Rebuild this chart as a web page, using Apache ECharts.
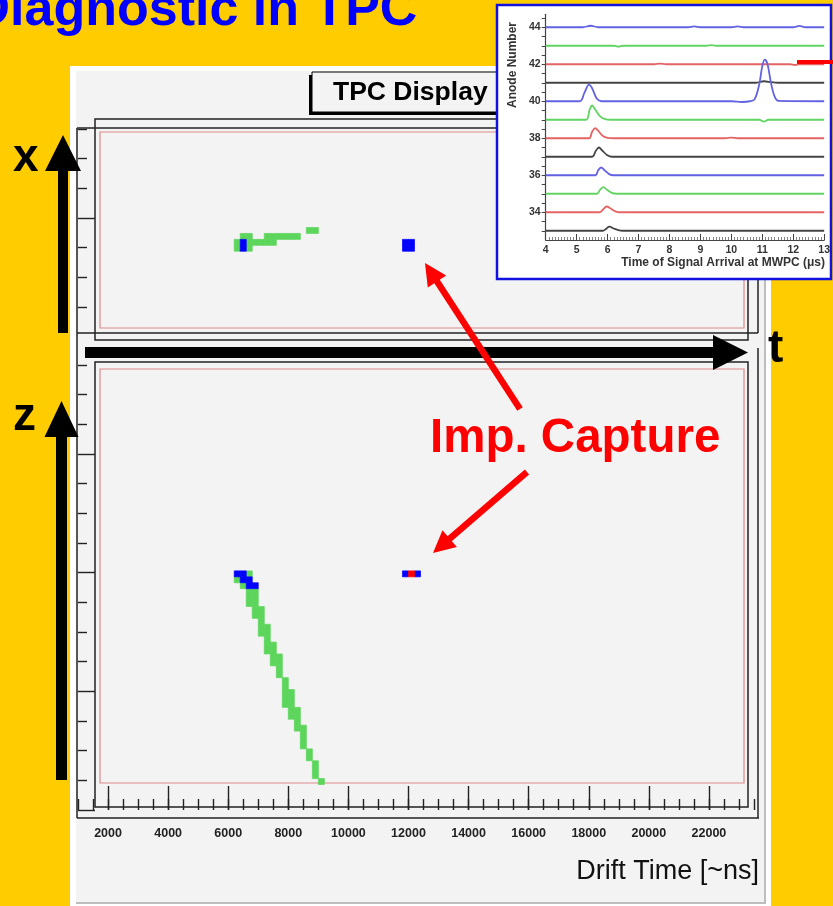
<!DOCTYPE html>
<html>
<head>
<meta charset="utf-8">
<script src="https://cdn.jsdelivr.net/npm/echarts@6/dist/echarts.min.js"></script>
<style>
html,body{margin:0;padding:0;background:#ffcc00;}
#c{width:833px;height:906px;}
</style>
</head>
<body>
<div id="c"></div>
<script>
// ---------------- DATA ----------------
// TPC display: drift time bin width (ns) and pad-row height (axis units)
const TIME_BIN = 200;
const ROW_H = 1;
// cells: [drift time bin start (ns), row position, charge level 1=low 2=mid 3=high]
const topCells = [
  [6200,14.4,1],[6400,14.4,2],[6600,14.4,1],
  [6200,15.4,1],[6400,15.4,2],[6600,15.4,1],[6800,15.4,1],[7000,15.4,1],[7200,15.4,1],[7400,15.4,1],
  [6400,16.4,1],[6600,16.4,1],[7200,16.4,1],[7400,16.4,1],[7600,16.4,1],[7800,16.4,1],[8000,16.4,1],[8200,16.4,1],
  [8600,17.4,1],[8800,17.4,1],
  [11800,14.4,2],[12000,14.4,2],[11800,15.4,2],[12000,15.4,2]
];
const bottomCells = [
  [6200,39.3,2],[6400,39.3,2],[6600,39.3,1],
  [6200,38.3,1],[6400,38.3,2],[6600,38.3,2],
  [6400,37.3,1],[6600,37.3,2],[6800,37.3,2],
  [6600,36.3,1],[6800,36.3,1],
  [6600,35.3,1],[6800,35.3,1],
  [6600,34.3,1],[6800,34.3,1],
  [6800,33.3,1],[7000,33.3,1],
  [6800,32.3,1],[7000,32.3,1],
  [7000,31.3,1],
  [7000,30.3,1],[7200,30.3,1],
  [7000,29.3,1],[7200,29.3,1],
  [7200,28.3,1],
  [7200,27.3,1],[7400,27.3,1],
  [7200,26.3,1],[7400,26.3,1],
  [7400,25.3,1],[7600,25.3,1],
  [7400,24.3,1],[7600,24.3,1],
  [7600,23.3,1],
  [7600,22.3,1],
  [7800,21.3,1],
  [7800,20.3,1],
  [7800,19.3,1],[8000,19.3,1],
  [7800,18.3,1],[8000,18.3,1],
  [7800,17.3,1],[8000,17.3,1],
  [8000,16.3,1],[8200,16.3,1],
  [8000,15.3,1],[8200,15.3,1],
  [8200,14.3,1],
  [8200,13.3,1],[8400,13.3,1],
  [8400,12.3,1],
  [8400,11.3,1],
  [8400,10.3,1],
  [8600,9.3,1],
  [8600,8.3,1],
  [8800,7.3,1],
  [8800,6.3,1],
  [8800,5.3,1],
  [9000,4.3,1],
  [11800,39.3,2],[12000,39.3,3],[12200,39.3,2]
];
const driftTimeLabels = [2000,4000,6000,8000,10000,12000,14000,16000,18000,20000,22000];
const topMinorTicks = [5,10,15,25,30,35];
const topMajorTicks = [20];
const bottomMinorTicks = [5,10,15,25,30,35,45,50,55,65,70,75];
const bottomMajorTicks = [0,20,40,60];

// Inset: MWPC anode signals, [time (us), signal above baseline (anode units)]
const anodes = [44,43,42,41,40,39,38,37,36,35,34,33];
const anodeLabels = [34,36,38,40,42,44];
const anodeTicks = [33,33.5,34,34.5,35,35.5,36,36.5,37,37.5,38,38.5,39,39.5,40,40.5,41,41.5,42,42.5,43,43.5,44,44.5];
const sig44 = [[4,0],[5.2,0],[5.45,0.08],[5.7,0],[8.6,0],[8.8,0.05],[9.0,0],[10.0,0],[10.2,0.05],[10.4,0],[12.0,0],[12.2,0.07],[12.4,0],[13,0]];
const sig43 = [[4,0],[6.2,0],[6.35,-0.05],[6.5,0],[9.2,0],[9.35,0.03],[9.5,0],[13,0]];
const sig42 = [[4,0],[7.5,0],[7.7,0.03],[7.9,0],[11.9,0],[12.05,-0.04],[12.2,0],[13,0]];
const sig41 = [[4,0],[10.8,0],[11.05,0.08],[11.3,0.03],[11.5,0],[13,0]];
const sig40 = [[4,0],[5.1,0],[5.25,0.45],[5.4,0.9],[5.5,0.7],[5.65,0.15],[5.8,0],[10.0,0],[10.35,-0.04],[10.6,0],[10.75,0.1],[10.9,0.9],[11.0,1.9],[11.08,2.25],[11.17,2.0],[11.28,1.0],[11.4,0.25],[11.52,0.02],[13,0]];
const sig39 = [[4,0],[5.3,0],[5.42,0.55],[5.5,0.77],[5.6,0.55],[5.75,0.2],[5.9,0.05],[6.1,0],[10.9,0],[11.05,-0.1],[11.2,0],[13,0]];
const sig38 = [[4,0],[5.4,0],[5.5,0.35],[5.6,0.55],[5.7,0.4],[5.85,0.12],[6.0,0.02],[6.2,0],[9.8,0],[10.0,0.03],[10.2,0],[13,0]];
const sig37 = [[4,0],[5.5,0],[5.62,0.32],[5.72,0.5],[5.82,0.35],[5.98,0.1],[6.15,0],[13,0]];
const sig36 = [[4,0],[5.6,0],[5.7,0.28],[5.79,0.42],[5.9,0.28],[6.05,0.06],[6.2,0],[13,0]];
const sig35 = [[4,0],[5.65,0],[5.76,0.22],[5.86,0.36],[5.98,0.22],[6.12,0.06],[6.3,0],[13,0]];
const sig34 = [[4,0],[5.75,0],[5.86,0.16],[5.97,0.31],[6.1,0.2],[6.25,0.05],[6.4,0],[13,0]];
const sig33 = [[4,0],[5.85,0],[5.95,0.1],[6.06,0.22],[6.2,0.12],[6.35,0.03],[6.5,0],[13,0]];
const signals = [sig44,sig43,sig42,sig41,sig40,sig39,sig38,sig37,sig36,sig35,sig34,sig33];

// ---------------- STYLE ----------------
const FONT = '"Liberation Sans", Arial, Helvetica, sans-serif';
const levelColors = {1:'#5bd65b', 2:'#0000ff', 3:'#ff0000'};
const traceColors = ['#6262e2','#62d462','#e46464','#444444'];
const LINE = '#222';

function cellSeries(name, data, xi, yi) {
  return {
    name: name, type: 'custom', xAxisIndex: xi, yAxisIndex: yi, z: 2, silent: true,
    data: data,
    renderItem: function (params, api) {
      const t = api.value(0), y = api.value(1), lvl = api.value(2);
      const p0 = api.coord([t, y]);
      const p1 = api.coord([t + TIME_BIN, y + ROW_H]);
      const c = levelColors[lvl];
      return { type: 'rect',
        z2: lvl,
        shape: { x: p0[0], y: p1[1], width: p1[0] - p0[0], height: p0[1] - p1[1] },
        style: { fill: c, stroke: c, lineWidth: 0.7 } };
    }
  };
}

function txt(text, x, y, size, weight, color, align, z, extra) {
  const o = { type: 'text', x: x, y: y, z: z || 4, silent: true,
    style: { text: text, x: 0, y: 0, font: weight + ' ' + size + 'px ' + FONT, fill: color,
      align: align, textAlign: align, verticalAlign: 'middle', textVerticalAlign: 'middle' } };
  return Object.assign(o, extra || {});
}
function rectEl(x, y, w, h, fill, stroke, lw, z) {
  return { type: 'rect', z: z, silent: true, shape: { x: x, y: y, width: w, height: h },
    style: { fill: fill || 'none', stroke: stroke || 'none', lineWidth: lw || 0 } };
}
function lineEl(x1, y1, x2, y2, stroke, lw, z) {
  return { type: 'line', z: z, silent: true, shape: { x1: x1, y1: y1, x2: x2, y2: y2 },
    style: { stroke: stroke, lineWidth: lw } };
}
function polyEl(points, fill, z) {
  return { type: 'polygon', z: z, silent: true, shape: { points: points }, style: { fill: fill } };
}
function arrowEls(x1, y1, x2, y2, w, hl, hw, color, z) {
  const dx = x2 - x1, dy = y2 - y1, L = Math.sqrt(dx * dx + dy * dy);
  const ux = dx / L, uy = dy / L, nx = -uy, ny = ux;
  const bx = x2 - ux * hl, by = y2 - uy * hl;
  return [
    { type: 'line', z: z, silent: true, shape: { x1: x1, y1: y1, x2: bx + ux * 2, y2: by + uy * 2 },
      style: { stroke: color, lineWidth: w, lineCap: 'butt' } },
    polyEl([[x2, y2], [bx + nx * hw, by + ny * hw], [bx - nx * hw, by - ny * hw]], color, z)
  ];
}

const graphics = [].concat(
  [
    // ROOT canvas
    rectEl(70, 66, 701, 840, '#ffffff', null, 0, 0),
    rectEl(76, 71, 689, 832, '#f3f3f3', null, 0, 0),
    lineEl(765, 71, 765, 903, '#bdbdbd', 2, 0),
    lineEl(76, 903, 766, 903, '#bdbdbd', 2, 0),
    // title box with shadow
    rectEl(309, 75, 200, 40, '#000000', null, 0, 1),
    rectEl(312, 72, 200, 40, '#f3f3f3', '#000000', 1, 1),
    txt('TPC Display', 333, 92.5, 26.5, 'bold', '#000', 'left', 1),
    // top pad frames
    lineEl(77, 128, 758, 128, LINE, 1.5, 1),
    lineEl(77, 128, 77, 818, LINE, 1.5, 1),
    lineEl(77, 333, 758, 333, LINE, 1.5, 1),
    lineEl(758, 128, 758, 333, LINE, 1.5, 1),
    rectEl(95, 119, 653, 221, null, LINE, 1.5, 1),
    rectEl(100, 132, 644, 196, null, '#e08a8a', 1.2, 1),
    // bottom pad frames
    lineEl(77, 818, 759, 818, LINE, 1.5, 1),
    lineEl(758, 348, 758, 818, LINE, 1.5, 1),
    rectEl(95, 362, 653, 445, null, LINE, 1.5, 1),
    rectEl(100, 369, 644, 414, null, '#e08a8a', 1.2, 1),
    txt('Drift Time [~ns]', 759, 872, 27, 'normal', '#111', 'right', 1),
    // black axis arrows
    rectEl(58, 169, 10, 164, '#000', null, 0, 4),
    polyEl([[63, 135], [45, 171], [81, 171]], '#000', 4),
    rectEl(56, 436, 11, 344, '#000', null, 0, 4),
    polyEl([[61.5, 401], [44.5, 437], [78.5, 437]], '#000', 4),
    rectEl(85, 347, 629, 11, '#000', null, 0, 4),
    polyEl([[713, 335], [748, 352.5], [713, 370]], '#000', 4),
    txt('x', 13, 158, 46, 'bold', '#000', 'left', 4),
    txt('z', 13, 417, 46, 'bold', '#000', 'left', 4),
    txt('t', 768, 349, 46, 'bold', '#000', 'left', 4),
    // page title
    txt('Diagnostic in TPC', -27.5, 10.3, 52, 'bold', '#0000ff', 'left', 4),
    // annotation
    txt('Imp. Capture', 430, 438.7, 47.5, 'bold', '#ff0000', 'left', 4)
  ],
  arrowEls(520, 409, 425, 263, 6.5, 22, 11, '#ff0000', 4),
  arrowEls(527, 472, 433, 553, 6.5, 22, 11, '#ff0000', 4),
  [
    // inset panel
    rectEl(497, 5, 334, 274, '#ffffff', '#1212e0', 2.5, 5),
    txt('Time of Signal Arrival at MWPC (\u03bcs)', 825, 262.5, 12, 'bold', '#333', 'right', 7),
    txt('Anode Number', 512.5, 65, 12, 'bold', '#333', 'center', 7, { rotation: Math.PI / 2 }),
    lineEl(797, 62, 833, 62, '#ff0000', 4, 7)
  ]
);

const tickStyle = { color: LINE, width: 1.4 };
const hiddenAxis = { axisLine: { show: false }, axisTick: { show: false }, axisLabel: { show: false }, splitLine: { show: false } };

const option = {
  backgroundColor: '#ffcc00',
  animation: false,
  grid: [
    { left: 78, top: 129, width: 676, height: 207.7 },
    { left: 78, top: 365, width: 676, height: 445 },
    { left: 545.7, top: 14.3, width: 278.6, height: 225.7 }
  ],
  xAxis: [
    Object.assign({ type: 'value', gridIndex: 0, min: 1000, max: 23500, position: 'bottom', z: 3 }, hiddenAxis),
    { type: 'value', gridIndex: 1, min: 1000, max: 23500, interval: 500, position: 'bottom', offset: 8, z: 3,
      axisLine: { show: false }, splitLine: { show: false }, axisLabel: { show: false },
      axisTick: { show: true, inside: true, length: 11, lineStyle: tickStyle } },
    { type: 'value', gridIndex: 1, min: 1000, max: 23500, position: 'bottom', offset: 8, z: 3,
      axisLine: { show: false }, splitLine: { show: false },
      axisTick: { show: true, inside: true, length: 24, customValues: driftTimeLabels, lineStyle: tickStyle },
      axisLabel: { show: true, customValues: driftTimeLabels, margin: 9, fontSize: 12.5, fontWeight: 'bold',
        color: '#222', fontFamily: FONT, formatter: function (v) { return String(v); } } },
    { type: 'value', gridIndex: 2, min: 4, max: 13, interval: 1, position: 'bottom', z: 6,
      axisLine: { show: true, lineStyle: { color: '#444', width: 1.2 } },
      splitLine: { show: false },
      axisTick: { show: true, inside: true, length: 6, lineStyle: { color: '#444', width: 1 } },
      minorTick: { show: true, splitNumber: 10, length: 3, lineStyle: { color: '#666', width: 0.8 } },
      axisLabel: { margin: 5, fontSize: 10.5, fontWeight: 'bold', color: '#333', fontFamily: FONT } }
  ],
  yAxis: [
    { type: 'value', gridIndex: 0, min: 0, max: 35, position: 'left', z: 3,
      axisLine: { show: false }, splitLine: { show: false }, axisLabel: { show: false },
      axisTick: { show: true, inside: true, length: 9, customValues: topMinorTicks, lineStyle: tickStyle } },
    { type: 'value', gridIndex: 0, min: 0, max: 35, position: 'left', z: 3,
      axisLine: { show: false }, splitLine: { show: false }, axisLabel: { show: false },
      axisTick: { show: true, inside: true, length: 17, customValues: topMajorTicks, lineStyle: tickStyle } },
    { type: 'value', gridIndex: 1, min: 0, max: 75, position: 'left', z: 3,
      axisLine: { show: false }, splitLine: { show: false }, axisLabel: { show: false },
      axisTick: { show: true, inside: true, length: 9, customValues: bottomMinorTicks, lineStyle: tickStyle } },
    { type: 'value', gridIndex: 1, min: 0, max: 75, position: 'left', z: 3,
      axisLine: { show: false }, splitLine: { show: false }, axisLabel: { show: false },
      axisTick: { show: true, inside: true, length: 17, customValues: bottomMajorTicks, lineStyle: tickStyle } },
    { type: 'value', gridIndex: 2, min: 32.5, max: 44.7, position: 'left', z: 6,
      axisLine: { show: true, lineStyle: { color: '#444', width: 1.2 } },
      splitLine: { show: false },
      axisTick: { show: true, inside: false, length: 4, customValues: anodeTicks, lineStyle: { color: '#444', width: 1 } },
      axisLabel: { customValues: anodeLabels, margin: 5, fontSize: 10.5, fontWeight: 'bold', color: '#333', fontFamily: FONT } }
  ],
  graphic: { elements: graphics },
  series: [
    cellSeries('x vs t', topCells, 0, 0),
    cellSeries('z vs t', bottomCells, 1, 2)
  ].concat(anodes.map(function (a, i) {
    return {
      name: 'Anode ' + a, type: 'line', xAxisIndex: 3, yAxisIndex: 4, z: 6,
      showSymbol: false, symbol: 'none', smooth: 0.35, silent: true,
      lineStyle: { color: traceColors[i % 4], width: 1.8 },
      data: signals[i].map(function (p) { return [p[0], a + p[1]]; })
    };
  }))
};

const chart = echarts.init(document.getElementById('c'), null, { renderer: 'canvas', width: 833, height: 906 });
chart.setOption(option);
</script>
</body>
</html>
